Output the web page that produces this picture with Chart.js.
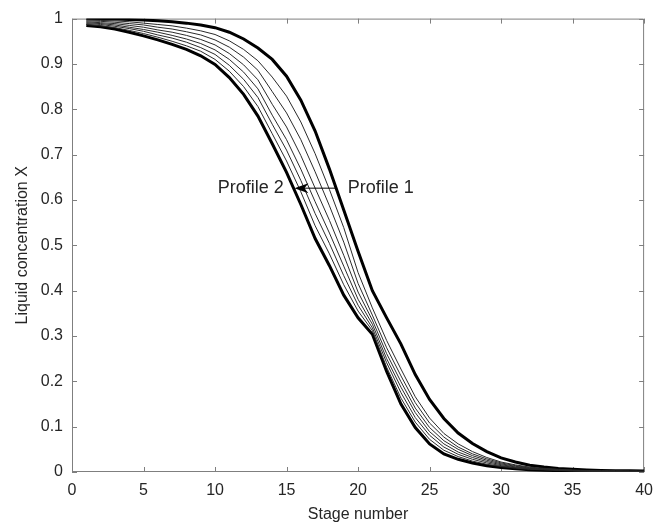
<!DOCTYPE html>
<html>
<head>
<meta charset="utf-8">
<script src="https://cdn.jsdelivr.net/npm/chart.js@4/dist/chart.umd.min.js"></script>
<style>
  body { margin: 0; background: #fff; }
  #wrap { width: 662px; height: 531px; }
</style>
</head>
<body>
<div id="wrap"><canvas id="chart"></canvas></div>
<script>
// Stage numbers 1..40
const stages = [1,2,3,4,5,6,7,8,9,10,11,12,13,14,15,16,17,18,19,20,
                21,22,23,24,25,26,27,28,29,30,31,32,33,34,35,36,37,38,39,40];

// Profile 1 (thick, right) and Profile 2 (thick, left)
const profile1 = [1.000,0.9995,0.999,0.998,0.997,0.995,0.993,0.990,0.986,0.980,
                  0.970,0.955,0.935,0.910,0.873,0.820,0.752,0.668,0.578,0.487,
                  0.400,0.340,0.282,0.215,0.160,0.118,0.086,0.063,0.045,0.031,
                  0.022,0.015,0.011,0.008,0.006,0.0045,0.0035,0.003,0.0025,0.002];
const profile2 = [0.985,0.982,0.977,0.970,0.962,0.953,0.943,0.932,0.918,0.899,
                  0.870,0.833,0.785,0.724,0.661,0.590,0.515,0.455,0.390,0.340,
                  0.304,0.222,0.150,0.098,0.062,0.040,0.028,0.020,0.014,0.010,
                  0.007,0.005,0.004,0.003,0.002,0.0015,0.001,0.001,0.001,0.001];

// intermediate profiles (thin lines), from Profile 2 side towards Profile 1
const mid1 = [0.987,0.984,0.980,0.974,0.967,0.959,0.950,0.940,0.928,0.910,
              0.884,0.850,0.806,0.746,0.686,0.618,0.543,0.481,0.413,0.355,
              0.312,0.231,0.163,0.110,0.072,0.048,0.034,0.024,0.017,0.012,
              0.0085,0.006,0.0047,0.0035,0.0024,0.0018,0.0013,0.0012,0.0012,0.0011];
const mid2 = [0.989,0.987,0.983,0.978,0.972,0.964,0.957,0.948,0.936,0.921,
              0.897,0.866,0.826,0.767,0.710,0.643,0.570,0.504,0.433,0.368,
              0.318,0.241,0.175,0.120,0.081,0.055,0.039,0.028,0.020,0.014,
              0.0099,0.0069,0.0053,0.0040,0.0028,0.0021,0.0015,0.0014,0.0013,0.0012];
const mid3 = [0.991,0.989,0.986,0.981,0.976,0.970,0.963,0.955,0.945,0.931,
              0.910,0.882,0.845,0.787,0.733,0.668,0.596,0.527,0.454,0.381,
              0.326,0.250,0.187,0.131,0.089,0.062,0.044,0.032,0.023,0.016,
              0.0112,0.0078,0.006,0.0044,0.0031,0.0023,0.0017,0.0016,0.0014,0.0013];
const mid4 = [0.993,0.991,0.989,0.985,0.981,0.975,0.970,0.963,0.954,0.942,
              0.923,0.898,0.865,0.811,0.761,0.698,0.626,0.555,0.478,0.397,
              0.335,0.261,0.199,0.141,0.098,0.069,0.050,0.036,0.026,0.018,
              0.0126,0.0087,0.0066,0.0049,0.0035,0.0026,0.0019,0.0017,0.0016,0.0014];
const mid5 = [0.995,0.994,0.992,0.989,0.986,0.981,0.977,0.971,0.964,0.953,
              0.937,0.915,0.886,0.839,0.792,0.733,0.662,0.587,0.507,0.416,
              0.346,0.274,0.212,0.153,0.108,0.077,0.055,0.040,0.029,0.020,
              0.0141,0.0097,0.0073,0.0054,0.0039,0.0029,0.0022,0.0019,0.0017,0.0015];
const mid6 = [0.997,0.996,0.995,0.993,0.990,0.987,0.984,0.979,0.973,0.965,
              0.951,0.932,0.907,0.871,0.829,0.772,0.702,0.623,0.539,0.440,
              0.362,0.290,0.227,0.166,0.119,0.085,0.062,0.045,0.032,0.022,
              0.0157,0.0108,0.0081,0.0059,0.0043,0.0032,0.0025,0.0022,0.0019,0.0016];

const xTicks = [0,5,10,15,20,25,30,35,40];
const yTicks = [0,0.1,0.2,0.3,0.4,0.5,0.6,0.7,0.8,0.9,1];

const FONT = '"Liberation Sans", Arial, Helvetica, sans-serif';

function points(vals) {
    return vals.map((v, i) => ({x: stages[i], y: v}));
}

function line(vals, thick) {
    return {
        data: points(vals),
        borderColor: thick ? '#000000' : '#2a2a2a',
        borderWidth: thick ? 3 : 1,
        pointRadius: 0,
        tension: 0,
        fill: false
    };
}

// MATLAB-like box with inward ticks (drawn under the lines)
const boxPlugin = {
    id: 'box',
    beforeDatasetsDraw(chart) {
        const {ctx, chartArea: a, scales: {x, y}} = chart;
        ctx.save();
        ctx.strokeStyle = '#7f7f7f';
        ctx.lineWidth = 1;
        ctx.beginPath();
        ctx.rect(a.left + 0.5, a.top + 0.5, a.right - a.left - 1, a.bottom - a.top - 1);
        xTicks.forEach(v => {
            const px = Math.round(x.getPixelForValue(v)) + 0.5;
            ctx.moveTo(px, a.bottom); ctx.lineTo(px, a.bottom - 5);
            ctx.moveTo(px, a.top); ctx.lineTo(px, a.top + 5);
        });
        yTicks.forEach(v => {
            const py = Math.round(y.getPixelForValue(v)) + 0.5;
            ctx.moveTo(a.left, py); ctx.lineTo(a.left + 5, py);
            ctx.moveTo(a.right, py); ctx.lineTo(a.right - 5, py);
        });
        ctx.stroke();
        ctx.restore();
    }
};

// "Profile 2 <-- Profile 1" annotation
const labelPlugin = {
    id: 'labels',
    afterDatasetsDraw(chart) {
        const {ctx, scales: {x, y}} = chart;
        const ly = y.getPixelForValue(0.626);
        const tipX = x.getPixelForValue(15.55);
        const tailX = x.getPixelForValue(18.45);
        ctx.save();
        ctx.strokeStyle = '#000';
        ctx.lineWidth = 1;
        ctx.beginPath();
        ctx.moveTo(tailX, ly);
        ctx.lineTo(tipX + 8, ly);
        ctx.stroke();
        ctx.fillStyle = '#000';
        ctx.beginPath();
        ctx.moveTo(tipX, ly);
        ctx.lineTo(tipX + 14, ly - 5);
        ctx.lineTo(tipX + 10, ly);
        ctx.lineTo(tipX + 14, ly + 5);
        ctx.closePath();
        ctx.fill();
        ctx.fillStyle = '#262626';
        ctx.font = '18px ' + FONT;
        ctx.textBaseline = 'middle';
        ctx.textAlign = 'right';
        ctx.fillText('Profile 2', x.getPixelForValue(14.8), ly);
        ctx.textAlign = 'left';
        ctx.fillText('Profile 1', x.getPixelForValue(19.28), ly);
        ctx.restore();
    }
};

new Chart(document.getElementById('chart'), {
    type: 'line',
    data: {
        datasets: [
            line(mid1), line(mid2), line(mid3), line(mid4), line(mid5), line(mid6),
            line(profile2, true), line(profile1, true)
        ]
    },
    options: {
        responsive: true,
        maintainAspectRatio: false,
        animation: false,
        layout: { padding: { top: 15, right: 9, left: 0, bottom: 0 } },
        plugins: { legend: { display: false }, tooltip: { enabled: false } },
        scales: {
            x: {
                type: 'linear',
                min: 0, max: 40,
                grid: { display: false, drawTicks: false },
                border: { display: false },
                afterFit: s => { s.height = 59; },
                ticks: {
                    stepSize: 5, padding: 9, color: '#262626', maxRotation: 0,
                    font: { family: FONT, size: 16 }
                },
                title: {
                    display: true, text: 'Stage number', color: '#262626',
                    font: { family: FONT, size: 16 }, padding: { bottom: 7 }
                }
            },
            y: {
                min: 0, max: 1,
                grid: { display: false, drawTicks: false },
                border: { display: false },
                afterFit: s => { s.width = 72; },
                ticks: {
                    stepSize: 0.1, padding: 9, color: '#262626',
                    font: { family: FONT, size: 16 },
                    callback: v => (v === 0 || v === 1) ? String(v) : v.toFixed(1)
                },
                title: {
                    display: true, text: 'Liquid concentration X', color: '#262626',
                    font: { family: FONT, size: 16 }, padding: { top: 13 }
                }
            }
        }
    },
    plugins: [boxPlugin, labelPlugin]
});
</script>
</body>
</html>
